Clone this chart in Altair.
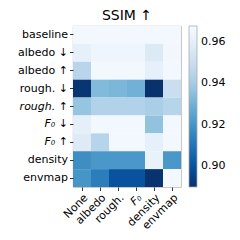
import altair as alt
import pandas as pd

rows = ["baseline", "albedo ↓", "albedo ↑", "rough. ↓", "rough. ↑", "F₀ ↓", "F₀ ↑", "density", "envmap"]
cols = ["None", "albedo", "rough.", "F₀", "density", "envmap"]

v_baseline = [0.966, 0.966, 0.966, 0.966, 0.966, 0.966]
v_albedo_dn = [0.961, 0.964, 0.964, 0.964, 0.957, 0.965]
v_albedo_up = [0.945, 0.966, 0.966, 0.966, 0.961, 0.966]
v_rough_dn = [0.8915, 0.933, 0.932, 0.930, 0.8905, 0.950]
v_rough_up = [0.937, 0.943, 0.943, 0.943, 0.941, 0.944]
v_f0_dn = [0.960, 0.966, 0.966, 0.966, 0.936, 0.966]
v_f0_up = [0.958, 0.944, 0.966, 0.966, 0.961, 0.966]
v_density = [0.918, 0.921, 0.921, 0.921, 0.962, 0.921]
v_envmap = [0.920, 0.913, 0.900, 0.900, 0.891, 0.966]

all_vals = [v_baseline, v_albedo_dn, v_albedo_up, v_rough_dn, v_rough_up,
            v_f0_dn, v_f0_up, v_density, v_envmap]

records = []
for r, vals in zip(rows, all_vals):
    for c, v in zip(cols, vals):
        records.append({"row": r, "col": c, "ssim": v})
df = pd.DataFrame(records)

lo, hi = 0.8901, 0.9675
blues = ["#08306b", "#08519c", "#2171b5", "#4292c6", "#6baed6",
         "#9ecae1", "#c6dbef", "#deebf7", "#f7fbff"]
dom = [lo + (hi - lo) * i / 8 for i in range(9)]

italic_y = "indexof(['rough. ↑', 'F₀ ↓', 'F₀ ↑'], datum.value) >= 0 ? 'italic' : 'normal'"
italic_x = "datum.value == 'F₀' ? 'italic' : 'normal'"

chart = alt.Chart(df).mark_rect().encode(
    x=alt.X("col:N", sort=cols, title=None,
            axis=alt.Axis(labelAngle=-45, labelAlign="right", labelBaseline="top",
                          labelFontStyle={"expr": italic_x},
                          tickSize=3.5, labelPadding=1, domain=False)),
    y=alt.Y("row:N", sort=rows, title=None,
            axis=alt.Axis(tickSize=3.5, labelPadding=2, domain=False,
                          labelFontStyle={"expr": italic_y})),
    color=alt.Color("ssim:Q", title=None,
                    scale=alt.Scale(domain=dom, range=blues, clamp=True),
                    legend=alt.Legend(values=[0.90, 0.92, 0.94, 0.96], format=".2f",
                                      gradientLength=161, gradientThickness=8,
                                      offset=8, padding=0,
                                      gradientStrokeColor="#aaaaaa", gradientStrokeWidth=0.8,
                                      labelFontSize=11, labelOffset=4)),
).properties(
    width=108, height=161,
    title=alt.TitleParams("SSIM ↑", fontSize=14, fontWeight="normal", offset=3,
                          font="DejaVu Sans", color="black"),
    autosize=alt.AutoSizeParams(type="none"),
    padding={"left": 65, "top": 18, "right": 51, "bottom": 45},
).configure_view(
    stroke="#aaaaaa", strokeWidth=0.8
).configure_axis(
    labelFont="DejaVu Sans", labelFontSize=11, labelColor="black",
    tickColor="black", tickWidth=0.8, grid=False
).configure_legend(
    labelFont="DejaVu Sans", labelColor="black"
)

chart.save("out.html", embed_options={"renderer": "svg", "actions": False})
